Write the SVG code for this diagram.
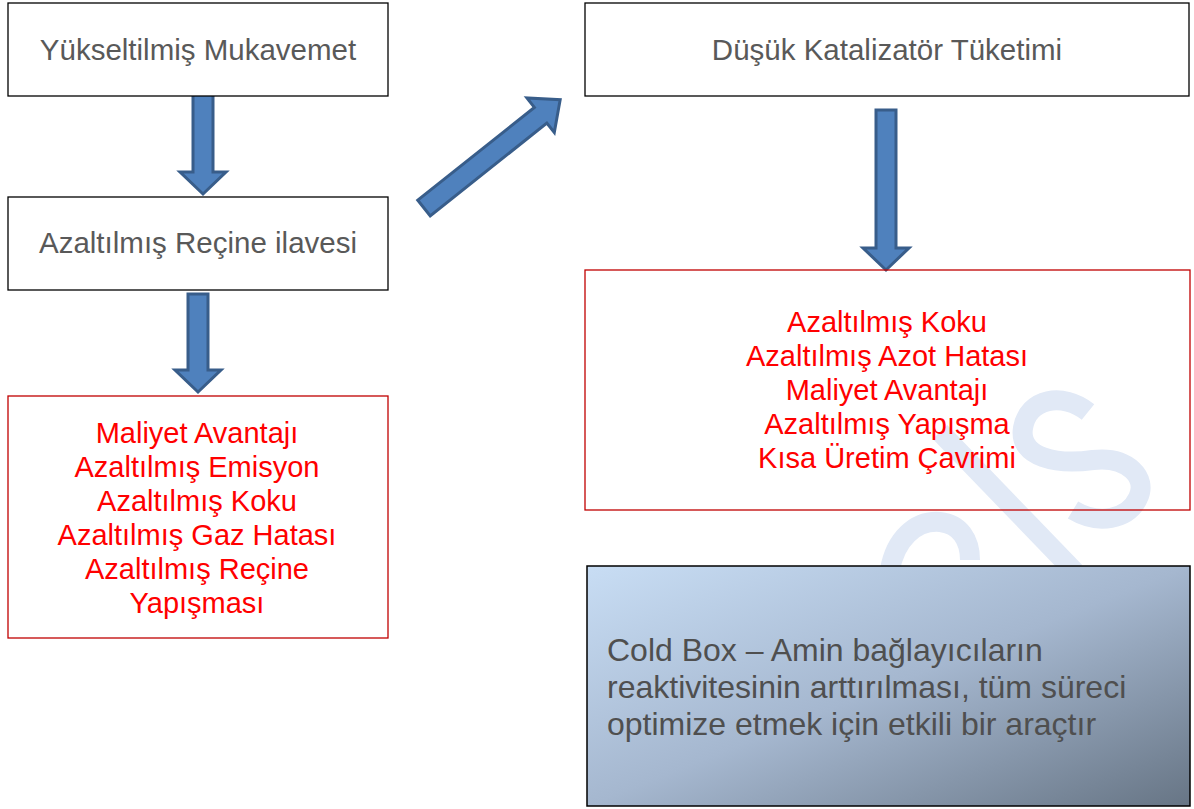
<svg xmlns="http://www.w3.org/2000/svg" width="1194" height="809" viewBox="0 0 1194 809">
  <style>
    .box { fill: #ffffff; stroke: #000000; stroke-width: 1.3; }
    .rbox { fill: none; stroke: #c00000; stroke-width: 1.3; }
    .gt { font-family: "Liberation Sans", Arial, sans-serif; font-size: 29.5px; fill: #595959; text-anchor: middle; }
    .rt { font-family: "Liberation Sans", Arial, sans-serif; font-size: 29px; fill: #ff0000; text-anchor: middle; }
    .ct { font-family: "Liberation Sans", Arial, sans-serif; font-size: 32px; fill: #4f4f4f; }
    .arrow { fill: #4f81bd; stroke: #385d8a; stroke-width: 3; stroke-linejoin: miter; }
    .wm { fill: none; stroke: #e1e9f6; stroke-width: 20; stroke-linecap: butt; }
  </style>
  <defs>
    <linearGradient id="cold" x1="0" y1="0" x2="1" y2="1">
      <stop offset="0" stop-color="#c8ddf4"/>
      <stop offset="0.5" stop-color="#a5b7cf"/>
      <stop offset="1" stop-color="#677585"/>
    </linearGradient>
  </defs>
  <rect width="1194" height="809" fill="#ffffff"/>

  <g id="watermark">
    <line class="wm" x1="940" y1="432" x2="1075" y2="572"/>
    <path class="wm" d="M1088 412 C1063 392 1028 398 1023 428 C1018 458 1058 465 1093 460 C1128 456 1148 478 1138 498 C1128 520 1098 525 1073 510"/>
    <path class="wm" d="M890 570 C895 540 915 520 940 522 C960 524 970 540 970 560"/>
  </g>

  <g id="connectors">
    <polygon class="arrow" points="193,94 213,94 213,172 226,172 203,194 180,172 193,172"/>
    <polygon class="arrow" points="188,294 208,294 208,370 221,370 198,392 175,370 188,370"/>
    <polygon class="arrow" points="876,110 896,110 896,248 909,248 886,270 863,248 876,248"/>
    <polygon class="arrow" transform="translate(424,208) rotate(-38.5)" points="0,-10 149,-10 149,-22 174,0 149,22 149,10 0,10"/>
  </g>

  <g id="n1">
    <rect class="box" x="8" y="3" width="380" height="93"/>
    <text class="gt" x="198" y="60">Yükseltilmiş Mukavemet</text>
  </g>
  <g id="n2">
    <rect class="box" x="8" y="197" width="380" height="93"/>
    <text class="gt" x="198" y="253">Azaltılmış Reçine ilavesi</text>
  </g>
  <g id="n3">
    <rect class="rbox" x="8" y="396" width="380" height="242"/>
    <text class="rt" x="197" y="443">Maliyet Avantajı</text>
    <text class="rt" x="197" y="477">Azaltılmış Emisyon</text>
    <text class="rt" x="197" y="511">Azaltılmış Koku</text>
    <text class="rt" x="197" y="545">Azaltılmış Gaz Hatası</text>
    <text class="rt" x="197" y="579">Azaltılmış Reçine</text>
    <text class="rt" x="197" y="613">Yapışması</text>
  </g>
  <g id="n4">
    <rect class="box" x="585" y="3" width="604" height="93"/>
    <text class="gt" x="887" y="60">Düşük Katalizatör Tüketimi</text>
  </g>
  <g id="n5">
    <rect class="rbox" x="585" y="270" width="605" height="240"/>
    <text class="rt" x="887" y="332">Azaltılmış Koku</text>
    <text class="rt" x="887" y="366">Azaltılmış Azot Hatası</text>
    <text class="rt" x="887" y="400">Maliyet Avantajı</text>
    <text class="rt" x="887" y="434">Azaltılmış Yapışma</text>
    <text class="rt" x="887" y="468">Kısa Üretim Çavrimi</text>
  </g>
  <g id="n6">
    <rect x="587" y="566" width="603" height="240" fill="url(#cold)" stroke="#000000" stroke-width="1.5"/>
    <text class="ct" x="607" y="661">Cold Box – Amin bağlayıcıların</text>
    <text class="ct" x="607" y="698">reaktivitesinin arttırılması, tüm süreci</text>
    <text class="ct" x="607" y="735">optimize etmek için etkili bir araçtır</text>
  </g>
</svg>
